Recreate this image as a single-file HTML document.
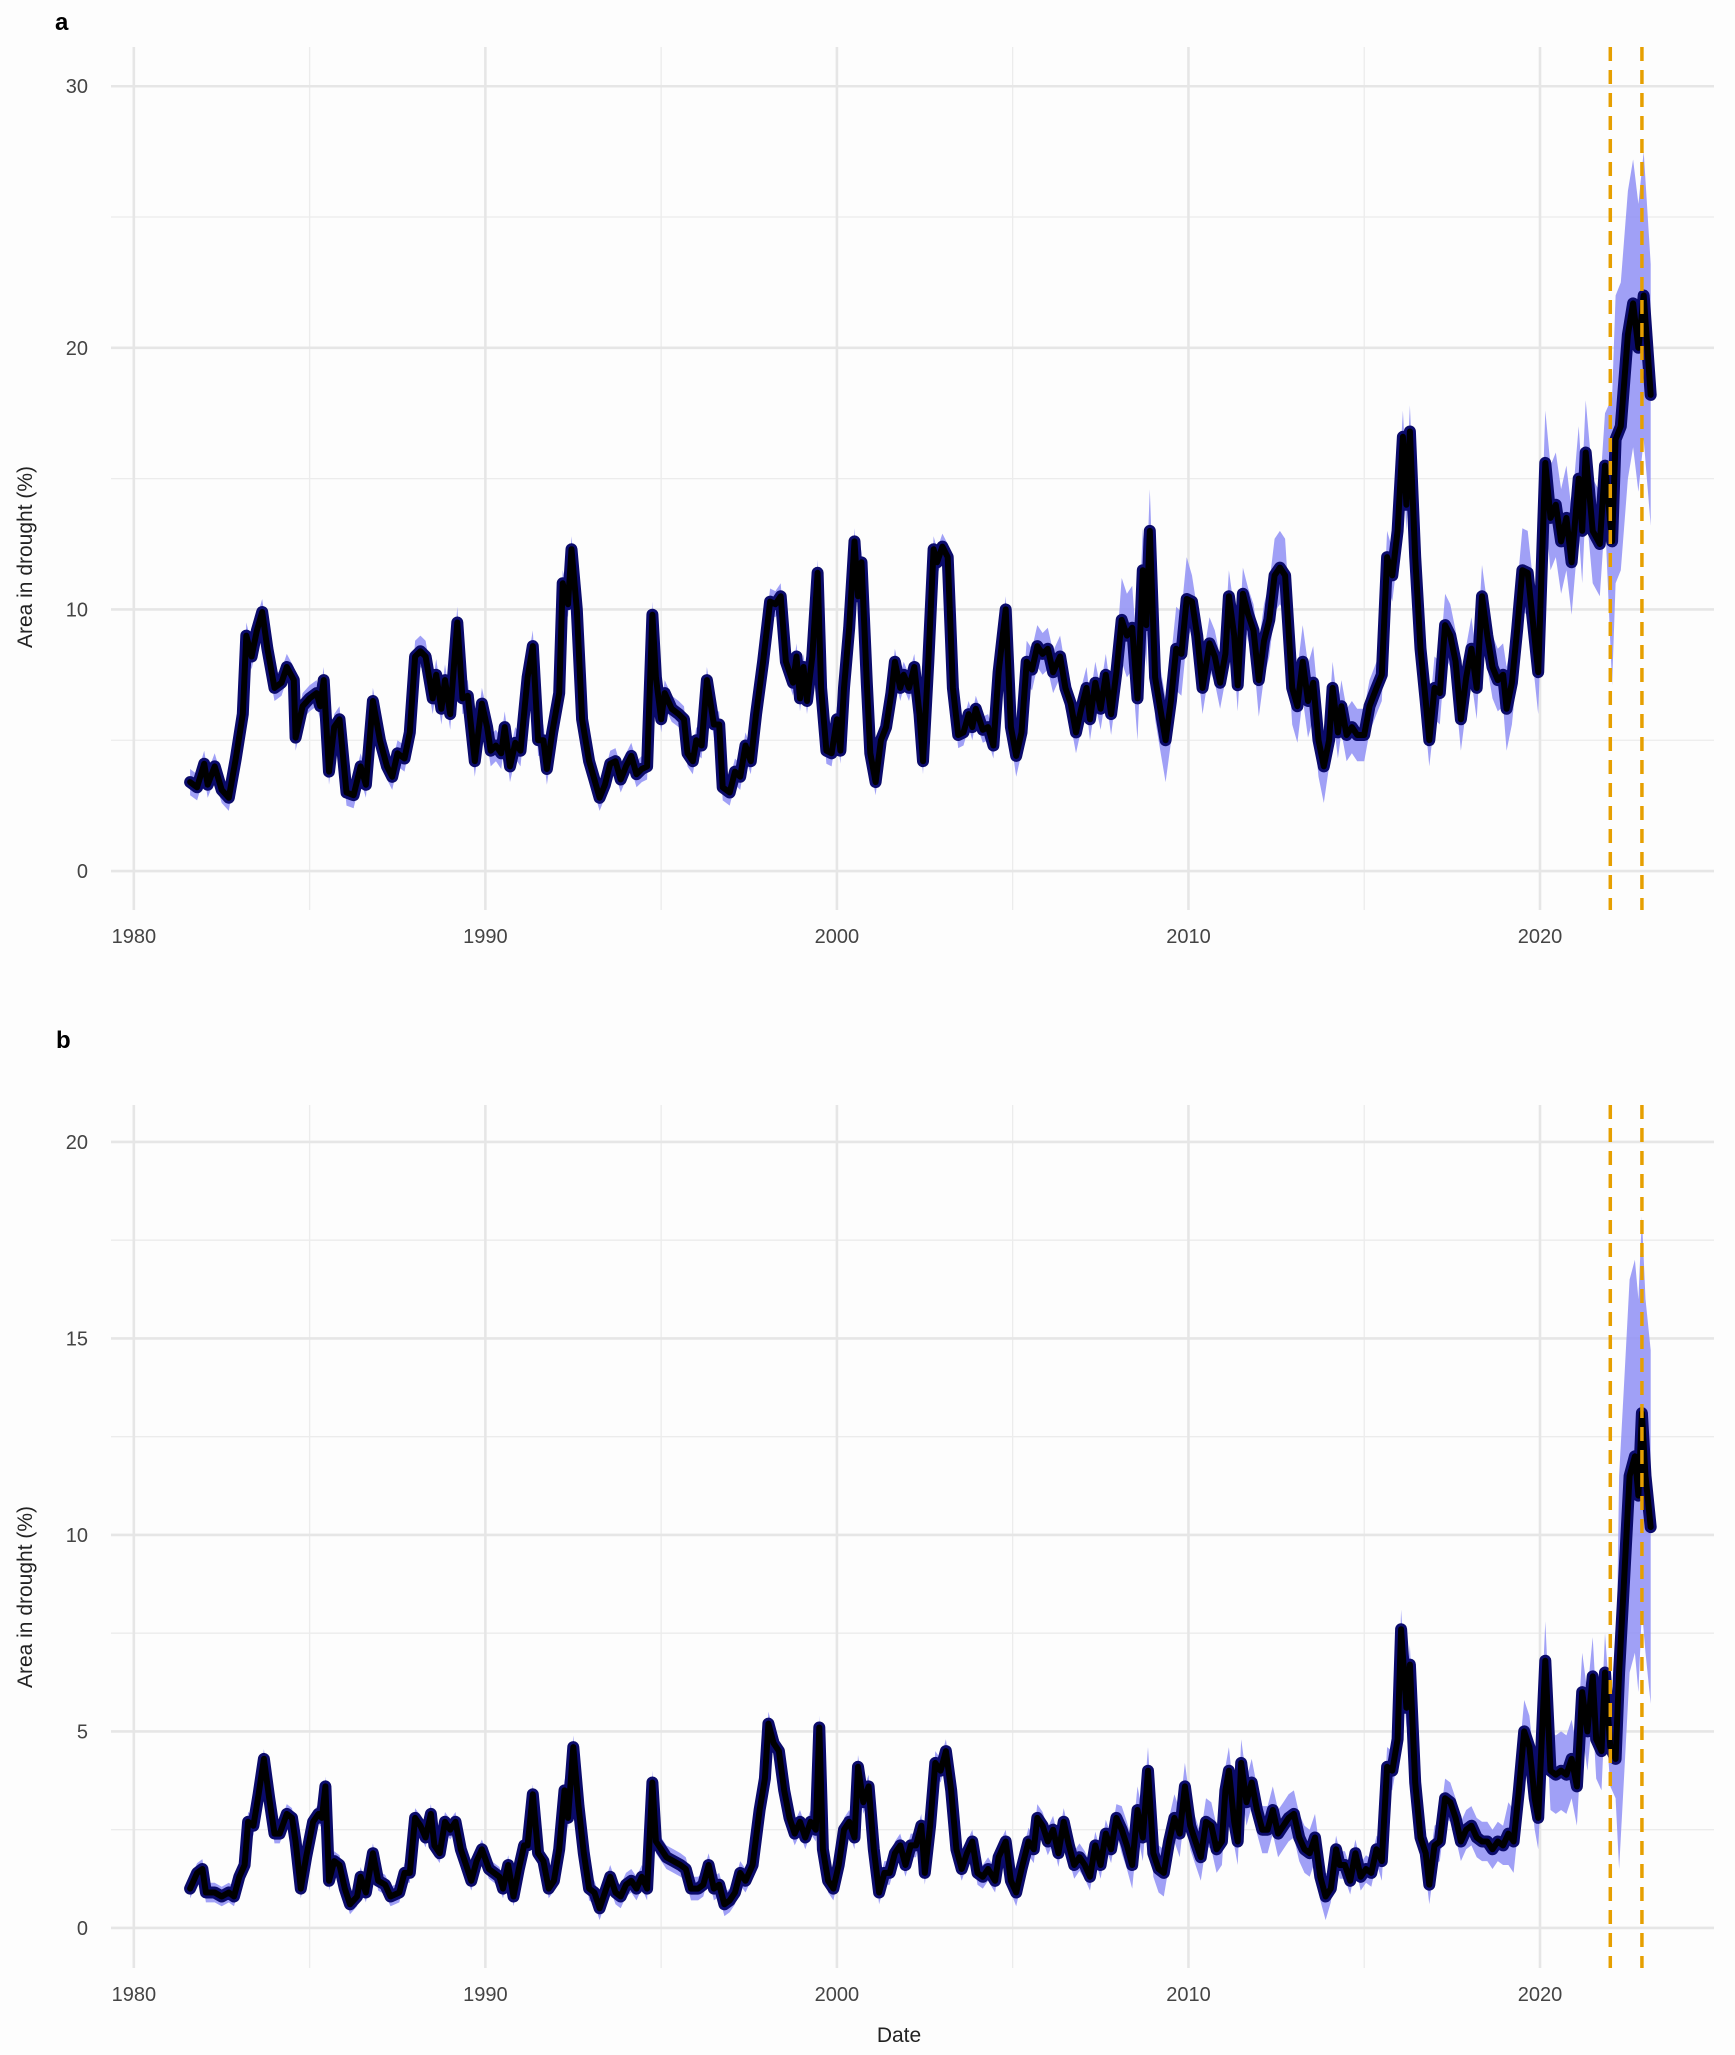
<!DOCTYPE html>
<html><head><meta charset="utf-8"><style>
body{margin:0;background:#fff}
svg{display:block;font-family:"Liberation Sans",sans-serif}
</style></head><body>
<svg id="chart" width="1735" height="2055" viewBox="0 0 1735 2055">
<rect x="0" y="0" width="1735" height="2055" fill="#fdfdfd"/>
<text x="55" y="30" font-size="24" font-weight="bold" fill="#000">a</text>
<text x="56" y="1048" font-size="24" font-weight="bold" fill="#000">b</text>
<text x="899" y="2042" font-size="21" fill="#222" text-anchor="middle">Date</text>
<text transform="translate(32,557) rotate(-90)" font-size="21" fill="#222" text-anchor="middle">Area in drought (%)</text>
<text transform="translate(32,1597) rotate(-90)" font-size="21" fill="#222" text-anchor="middle">Area in drought (%)</text>
<g id="pa"></g>
<g id="pb"></g>
</svg>
<script>
const xTickYears=[1980,1990,2000,2010,2020];
const eventLines=[2022.0,2022.9];
const aTicks=[0,10,20,30];
const bTicks=[0,5,10,15,20];
const aDates=[1981.6,1981.8,1982.0,1982.1,1982.3,1982.5,1982.7,1982.9,1983.1,1983.2,1983.35,1983.5,1983.65,1983.8,1984.0,1984.2,1984.35,1984.55,1984.6,1984.8,1985.0,1985.2,1985.3,1985.4,1985.55,1985.7,1985.85,1986.05,1986.25,1986.45,1986.6,1986.8,1987.0,1987.2,1987.35,1987.5,1987.7,1987.85,1988.0,1988.15,1988.3,1988.5,1988.6,1988.75,1988.85,1989.0,1989.2,1989.35,1989.5,1989.7,1989.9,1990.05,1990.15,1990.3,1990.45,1990.55,1990.7,1990.85,1991.0,1991.2,1991.35,1991.5,1991.65,1991.75,1991.9,1992.1,1992.2,1992.35,1992.45,1992.6,1992.75,1992.95,1993.1,1993.25,1993.4,1993.55,1993.7,1993.85,1994.0,1994.15,1994.3,1994.45,1994.6,1994.75,1994.85,1995.0,1995.1,1995.3,1995.5,1995.65,1995.75,1995.9,1996.0,1996.15,1996.3,1996.5,1996.65,1996.75,1996.95,1997.1,1997.25,1997.4,1997.55,1997.7,1997.9,1998.1,1998.25,1998.4,1998.55,1998.75,1998.85,1998.95,1999.05,1999.15,1999.3,1999.45,1999.55,1999.7,1999.85,2000.0,2000.1,2000.2,2000.35,2000.5,2000.6,2000.7,2000.85,2000.95,2001.1,2001.25,2001.4,2001.55,2001.65,2001.8,2001.9,2002.05,2002.2,2002.35,2002.45,2002.6,2002.75,2002.85,2003.0,2003.15,2003.3,2003.45,2003.6,2003.75,2003.85,2003.95,2004.15,2004.3,2004.45,2004.6,2004.8,2004.95,2005.1,2005.25,2005.4,2005.55,2005.7,2005.85,2006.0,2006.15,2006.35,2006.5,2006.65,2006.8,2006.95,2007.1,2007.2,2007.35,2007.5,2007.65,2007.8,2007.95,2008.1,2008.25,2008.4,2008.55,2008.7,2008.8,2008.9,2009.05,2009.2,2009.35,2009.5,2009.65,2009.8,2009.95,2010.1,2010.25,2010.4,2010.6,2010.75,2010.9,2011.05,2011.15,2011.3,2011.4,2011.55,2011.7,2011.85,2012.0,2012.15,2012.3,2012.45,2012.6,2012.75,2012.95,2013.1,2013.25,2013.4,2013.55,2013.7,2013.85,2014.0,2014.1,2014.25,2014.35,2014.5,2014.65,2014.8,2015.0,2015.15,2015.35,2015.5,2015.65,2015.8,2015.95,2016.1,2016.2,2016.3,2016.45,2016.6,2016.75,2016.85,2017.0,2017.15,2017.3,2017.45,2017.6,2017.75,2017.9,2018.05,2018.2,2018.35,2018.5,2018.65,2018.8,2018.95,2019.05,2019.2,2019.35,2019.5,2019.65,2019.8,2019.95,2020.15,2020.3,2020.45,2020.6,2020.75,2020.9,2021.1,2021.2,2021.3,2021.5,2021.7,2021.85,2022.05,2022.15,2022.3,2022.5,2022.65,2022.8,2022.95,2023.15];
const aValues=[3.4,3.2,4.1,3.3,4.0,3.1,2.8,4.3,6.0,9.0,8.2,9.2,9.9,8.5,7.0,7.2,7.8,7.3,5.1,6.3,6.6,6.8,6.3,7.3,3.8,5.5,5.8,3.0,2.9,4.0,3.3,6.5,5.0,4.0,3.6,4.5,4.3,5.3,8.2,8.4,8.2,6.6,7.5,6.2,7.3,6.0,9.5,6.6,6.7,4.2,6.4,5.5,4.6,4.8,4.5,5.5,4.0,4.9,4.6,7.4,8.6,5.0,5.0,3.9,5.3,6.8,11.0,10.2,12.3,10.0,5.8,4.2,3.5,2.8,3.3,4.1,4.2,3.5,4.0,4.4,3.7,3.9,4.0,9.8,7.4,5.8,6.8,6.2,6.0,5.8,4.5,4.2,5.0,4.8,7.3,5.6,5.6,3.2,3.0,3.8,3.6,4.8,4.2,6.0,8.0,10.3,10.2,10.5,8.0,7.2,8.2,6.6,7.8,6.5,8.2,11.4,7.0,4.6,4.5,5.8,4.6,7.0,9.3,12.6,10.5,11.8,7.2,4.5,3.4,5.0,5.5,6.8,8.0,7.0,7.5,7.0,7.8,6.0,4.2,8.0,12.3,11.8,12.4,12.0,7.0,5.2,5.3,6.0,5.5,6.2,5.4,5.5,4.8,7.6,10.0,5.5,4.4,5.3,8.0,7.7,8.6,8.3,8.5,7.6,8.2,7.0,6.4,5.3,6.2,7.0,5.8,7.2,6.2,7.5,6.0,7.6,9.6,9.0,9.3,6.6,11.5,9.4,13.0,7.4,6.2,5.0,6.5,8.5,8.3,10.4,10.3,9.0,7.0,8.7,8.2,7.2,8.3,10.5,9.0,7.1,10.6,9.8,9.2,7.3,8.8,9.6,11.3,11.6,11.3,7.0,6.3,8.0,6.5,7.2,5.0,4.0,5.0,7.0,5.3,6.3,5.2,5.5,5.2,5.2,6.3,7.0,7.5,12.0,11.3,13.0,16.6,14.0,16.8,12.0,8.5,6.5,5.0,7.0,6.8,9.4,9.0,8.0,5.8,7.4,8.5,7.0,10.5,9.0,7.8,7.3,7.5,6.2,7.2,9.2,11.5,11.4,9.5,7.6,15.6,13.5,14.0,12.6,13.5,11.8,15.0,13.0,16.0,13.0,12.5,15.5,12.6,16.5,17.0,20.5,21.7,20.0,22.0,18.2];
const aSpreadYears=[1980,1988,1992,1998,2005,2008,2010,2012,2014,2015.5,2017,2019,2020,2022,2023];
const aSpreadVals=[0.5,0.6,0.5,0.5,0.8,1.6,1.0,1.4,1.0,1.0,1.2,1.6,2.0,5.5,5.0];
const bDates=[1981.6,1981.8,1981.95,1982.05,1982.3,1982.5,1982.7,1982.85,1983.0,1983.15,1983.25,1983.4,1983.55,1983.7,1983.85,1984.0,1984.15,1984.35,1984.5,1984.6,1984.75,1984.9,1985.1,1985.25,1985.35,1985.45,1985.55,1985.7,1985.85,1986.0,1986.15,1986.35,1986.45,1986.6,1986.8,1986.95,1987.15,1987.3,1987.55,1987.7,1987.85,1988.0,1988.15,1988.3,1988.45,1988.55,1988.7,1988.85,1989.0,1989.15,1989.3,1989.45,1989.6,1989.75,1989.9,1990.1,1990.25,1990.4,1990.5,1990.65,1990.8,1990.95,1991.1,1991.2,1991.35,1991.5,1991.65,1991.8,1991.95,1992.1,1992.25,1992.35,1992.5,1992.65,1992.8,1992.95,1993.1,1993.25,1993.4,1993.55,1993.7,1993.85,1994.0,1994.15,1994.3,1994.45,1994.6,1994.75,1994.85,1995.0,1995.15,1995.35,1995.55,1995.7,1995.85,1996.05,1996.2,1996.35,1996.5,1996.65,1996.8,1996.95,1997.1,1997.25,1997.4,1997.6,1997.8,1997.95,1998.05,1998.2,1998.35,1998.5,1998.65,1998.8,1998.95,1999.1,1999.25,1999.4,1999.5,1999.6,1999.75,1999.9,2000.05,2000.2,2000.35,2000.5,2000.6,2000.75,2000.9,2001.05,2001.2,2001.35,2001.5,2001.65,2001.8,2001.95,2002.1,2002.25,2002.4,2002.5,2002.65,2002.8,2002.95,2003.1,2003.25,2003.4,2003.55,2003.7,2003.85,2004.0,2004.15,2004.3,2004.5,2004.6,2004.8,2004.95,2005.1,2005.25,2005.45,2005.6,2005.7,2005.85,2006.0,2006.15,2006.3,2006.45,2006.6,2006.75,2006.9,2007.05,2007.2,2007.35,2007.5,2007.65,2007.8,2007.95,2008.1,2008.25,2008.4,2008.55,2008.7,2008.85,2009.0,2009.15,2009.3,2009.45,2009.6,2009.75,2009.9,2010.05,2010.2,2010.35,2010.5,2010.65,2010.8,2010.95,2011.05,2011.15,2011.3,2011.4,2011.5,2011.65,2011.8,2011.95,2012.1,2012.25,2012.4,2012.55,2012.7,2012.85,2013.0,2013.15,2013.3,2013.45,2013.6,2013.75,2013.9,2014.05,2014.2,2014.3,2014.45,2014.6,2014.75,2014.9,2015.05,2015.2,2015.35,2015.5,2015.65,2015.8,2015.95,2016.05,2016.2,2016.3,2016.45,2016.6,2016.75,2016.85,2017.0,2017.15,2017.3,2017.45,2017.6,2017.75,2017.9,2018.05,2018.2,2018.35,2018.5,2018.65,2018.8,2018.95,2019.1,2019.25,2019.4,2019.55,2019.7,2019.85,2019.95,2020.15,2020.3,2020.45,2020.6,2020.75,2020.9,2021.05,2021.2,2021.35,2021.5,2021.6,2021.75,2021.85,2022.0,2022.15,2022.25,2022.4,2022.55,2022.7,2022.8,2022.9,2023.0,2023.15];
const bValues=[1.0,1.4,1.5,0.9,0.9,0.8,0.9,0.8,1.3,1.6,2.7,2.6,3.4,4.3,3.3,2.4,2.4,2.9,2.8,2.2,1.0,1.8,2.7,2.9,2.8,3.6,1.2,1.7,1.6,1.0,0.6,0.8,1.3,0.9,1.9,1.2,1.1,0.8,0.9,1.4,1.4,2.8,2.6,2.3,2.9,2.1,1.9,2.7,2.5,2.7,2.0,1.6,1.2,1.7,2.0,1.5,1.4,1.3,1.0,1.6,0.8,1.5,2.1,2.1,3.4,1.9,1.7,1.0,1.2,2.0,3.5,2.8,4.6,3.1,1.9,1.0,0.9,0.5,0.9,1.3,0.9,0.8,1.1,1.2,1.0,1.3,1.0,3.7,2.2,2.0,1.8,1.7,1.6,1.5,1.0,1.0,1.1,1.6,1.0,1.1,0.6,0.7,0.9,1.4,1.2,1.6,3.0,3.8,5.2,4.7,4.5,3.5,2.8,2.4,2.7,2.3,2.7,2.5,5.1,2.0,1.2,1.0,1.6,2.5,2.7,2.3,4.1,3.2,3.6,2.0,0.9,1.4,1.4,1.9,2.1,1.6,2.1,2.1,2.6,1.4,2.6,4.2,4.0,4.5,3.5,2.0,1.5,1.9,2.2,1.4,1.3,1.5,1.2,1.8,2.2,1.2,0.9,1.5,2.2,2.0,2.8,2.6,2.2,2.5,1.9,2.7,2.1,1.6,1.8,1.6,1.3,2.1,1.6,2.4,2.0,2.8,2.5,2.1,1.6,3.0,2.3,4.0,1.9,1.5,1.4,2.2,2.8,2.4,3.6,2.6,2.2,1.8,2.7,2.6,2.0,2.2,3.5,4.0,2.7,2.2,4.2,3.2,3.7,3.0,2.5,2.5,3.0,2.4,2.6,2.8,2.9,2.3,2.0,1.9,2.3,1.3,0.8,1.0,2.0,1.6,1.6,1.2,1.9,1.3,1.5,1.4,2.0,1.7,4.1,4.0,4.8,7.6,5.6,6.7,3.7,2.3,1.9,1.1,2.1,2.2,3.3,3.2,2.8,2.2,2.5,2.6,2.3,2.2,2.2,2.0,2.2,2.1,2.4,2.2,3.5,5.0,4.6,3.3,2.8,6.8,4.0,3.9,4.0,3.9,4.3,3.6,6.0,5.0,6.4,4.8,4.5,6.5,4.6,4.3,6.5,9.0,11.5,12.0,11.0,13.1,11.5,10.2];
const bSpreadYears=[1980,1992,1998,2005,2008,2012,2014,2015.5,2017,2019,2020,2022.2,2023];
const bSpreadVals=[0.25,0.3,0.3,0.35,0.6,0.6,0.35,0.5,0.5,0.8,1.0,5.0,4.5];

const NS="http://www.w3.org/2000/svg";
function mk(parent,tag,attrs){const e=document.createElementNS(NS,tag);for(const k in attrs)e.setAttribute(k,attrs[k]);parent.appendChild(e);return e;}
const xMin=1979.35,xMax=2024.95,left=111,right=1714;
function xs(y){return left+(y-xMin)/(xMax-xMin)*(right-left);}

function drawPanel(g,top,bottom,yMin,yMax,ticks,minorStep,dates,vals,spY,spV,pfx){
  const ys=v=>bottom-(v-yMin)/(yMax-yMin)*(bottom-top);
  for(let m=0;m<=yMax;m+=minorStep){
    if(ticks.includes(Math.round(m*100)/100))continue;
    const l=mk(g,'line',{x1:left,x2:right,y1:ys(m),y2:ys(m),stroke:'#ececec','stroke-width':1.3});
    
    
  }
  for(let yr=1985;yr<=2020;yr+=10){
    const l=mk(g,'line',{x1:xs(yr),x2:xs(yr),y1:top,y2:bottom,stroke:'#ececec','stroke-width':1.3});
    
    
  }
  ticks.forEach(t=>{
    const l=mk(g,'line',{x1:left,x2:right,y1:ys(t),y2:ys(t),stroke:'#e6e6e6','stroke-width':2.6});
    
    
    const tx=mk(g,'text',{x:88,y:ys(t)+7,'font-size':20,fill:'#444','text-anchor':'end'});
    tx.textContent=t;
    
    
  });
  xTickYears.forEach(yr=>{
    const l=mk(g,'line',{x1:xs(yr),x2:xs(yr),y1:top,y2:bottom,stroke:'#e6e6e6','stroke-width':2.6});
    
    
    const tx=mk(g,'text',{x:xs(yr),y:bottom+33,'font-size':20,fill:'#444','text-anchor':'middle'});
    tx.textContent=yr;
    
    
  });
  const spreadAt=d=>{let s=spV[0];for(let i=0;i<spY.length;i++){if(d>=spY[i])s=spV[i];}return s;};
  let up='',dn='';
  dates.forEach((d,i)=>{const s=spreadAt(d);up+=(i?'L':'M')+xs(d).toFixed(1)+','+ys(vals[i]+s).toFixed(1);});
  for(let i=dates.length-1;i>=0;i--){const s=spreadAt(dates[i]);dn+='L'+xs(dates[i]).toFixed(1)+','+ys(Math.max(0.2,vals[i]-s)).toFixed(1);}
  const band=mk(g,'path',{d:up+dn+'Z',fill:'#8f8ff5','fill-opacity':0.85});
  
  
  let p='';dates.forEach((d,i)=>{p+=(i?'L':'M')+xs(d).toFixed(1)+','+ys(vals[i]).toFixed(1);});
  const outer=mk(g,'path',{d:p,fill:'none',stroke:'#0b0b6b','stroke-width':12,'stroke-linejoin':'round','stroke-linecap':'round'});
  
  
  const inner=mk(g,'path',{d:p,fill:'none',stroke:'#000','stroke-width':6,'stroke-linejoin':'round','stroke-linecap':'round'});
  
  
  eventLines.forEach((d,i)=>{
    const l=mk(g,'line',{x1:xs(d),x2:xs(d),y1:top,y2:bottom,stroke:'#e69f00','stroke-width':3.5,'stroke-dasharray':'14 9'});
    
    
  });
}
drawPanel(document.getElementById('pa'),47,910,-1.49,31.5,aTicks,5,aDates,aValues,aSpreadYears,aSpreadVals,'a-');
drawPanel(document.getElementById('pb'),1105,1968,-1.02,20.94,bTicks,2.5,bDates,bValues,bSpreadYears,bSpreadVals,'b-');
</script>
</body></html>
